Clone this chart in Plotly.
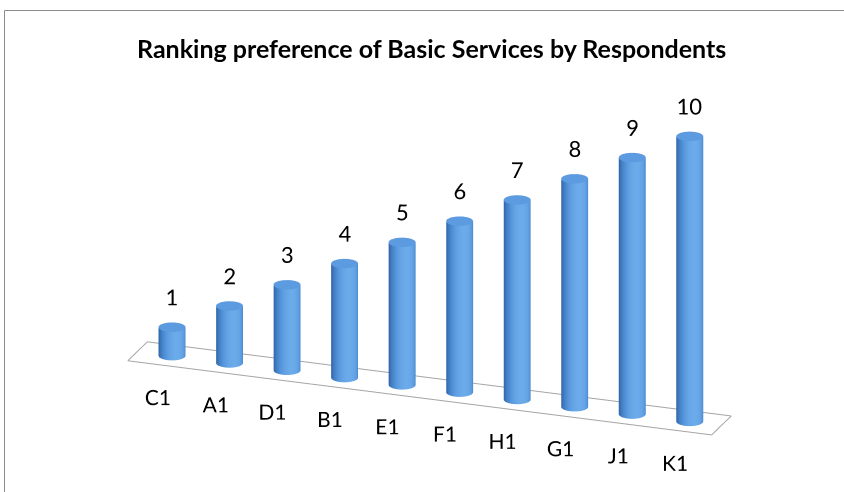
import numpy as np
import plotly.graph_objects as go

# ---- data ----
categories = ["C1", "A1", "D1", "B1", "E1", "F1", "H1", "G1", "J1", "K1"]
values = [1, 2, 3, 4, 5, 6, 7, 8, 9, 10]
title_text = "Ranking preference of Basic Services by Respondents"

FONT = "Lato"
R = 0.22
theta = np.linspace(0, 2 * np.pi, 73)
theta_h = np.deg2rad(-50)

body_scale = [[0.0, "#2a5f9e"], [0.5, "#3569ad"], [0.8, "#4f8fd6"], [1.0, "#6cabea"]]
cap_scale = [[0, "#5c9be0"], [1, "#5c9be0"]]
flat = dict(ambient=1, diffuse=0, specular=0, roughness=1, fresnel=0)

fig = go.Figure()
for i, (cat, v) in enumerate(zip(categories, values)):
    X = np.vstack([i + R * np.cos(theta)] * 2)
    Y = np.vstack([R * np.sin(theta)] * 2)
    Z = np.vstack([np.zeros_like(theta), np.full_like(theta, v)])
    S = np.vstack([np.cos(theta - theta_h)] * 2)
    fig.add_trace(go.Surface(x=X, y=Y, z=Z, surfacecolor=S, colorscale=body_scale,
                             cmin=-1, cmax=1, showscale=False, lighting=flat,
                             hoverinfo="skip"))
    rho = np.array([0, R])[:, None]
    fig.add_trace(go.Surface(x=i + rho * np.cos(theta), y=rho * np.sin(theta),
                             z=np.full((2, theta.size), v), surfacecolor=np.zeros((2, theta.size)),
                             colorscale=cap_scale, showscale=False, lighting=flat,
                             hoverinfo="skip"))

# floor outline
fx0, fx1, fy0, fy1 = -0.6, 9.55, -0.47, 0.47
fig.add_trace(go.Scatter3d(x=[fx0, fx1, fx1, fx0, fx0], y=[fy0, fy0, fy1, fy1, fy0],
                           z=[0, 0, 0, 0, 0], mode="lines",
                           line=dict(color="#a6a6a6", width=2), hoverinfo="skip"))

# value labels
fig.add_trace(go.Scatter3d(x=list(range(len(values))), y=[0] * len(values),
                           z=[v + 1.05 for v in values], mode="text",
                           text=[str(v) for v in values], textposition="middle center",
                           textfont=dict(family=FONT, size=22, color="#000000"),
                           hoverinfo="skip"))
# category labels
fig.add_trace(go.Scatter3d(x=list(range(len(categories))), y=[-0.7] * len(categories),
                           z=[-0.97] * len(categories), mode="text", text=categories,
                           textposition="middle center",
                           textfont=dict(family=FONT, size=21, color="#000000"),
                           hoverinfo="skip"))

ax = dict(visible=False, showgrid=False, zeroline=False, showbackground=False,
          showspikes=False)
fig.update_layout(
    width=844, height=492,
    margin=dict(l=0, r=0, t=0, b=0),
    paper_bgcolor="white",
    showlegend=False,
    scene=dict(
        domain=dict(x=[0, 1], y=[0, 1]),
        xaxis=dict(ax, range=[-0.7, 9.7]),
        yaxis=dict(ax, range=[-0.8, 0.5]),
        zaxis=dict(ax, range=[-1.3, 11.3]),
        aspectmode="manual",
        aspectratio=dict(x=2.587, y=0.323, z=1.559),
        bgcolor="white",
        camera=dict(eye=dict(x=1.024, y=-2.893, z=1.161),
                    center=dict(x=-0.025, y=0, z=0.01),
                    up=dict(x=0, y=0, z=1),
                    projection=dict(type="orthographic")),
        dragmode=False,
    ),
    annotations=[dict(text="<b>" + title_text + "</b>", x=431.5 / 844, y=1 - 48 / 492,
                      xref="paper", yref="paper", showarrow=False,
                      font=dict(family=FONT, size=25, color="#000000"),
                      xanchor="center", yanchor="middle")],
    shapes=[
        dict(type="line", xref="paper", yref="paper", x0=4.5 / 844, x1=1, y0=1 - 10.5 / 492,
             y1=1 - 10.5 / 492, line=dict(color="#8c8c8c", width=1)),
        dict(type="line", xref="paper", yref="paper", x0=4.5 / 844, x1=4.5 / 844, y0=0,
             y1=1 - 10.5 / 492, line=dict(color="#8c8c8c", width=1)),
    ],
)
fig.write_html("out.html", config={"displayModeBar": False},
               post_script="document.body.style.margin='0';")
